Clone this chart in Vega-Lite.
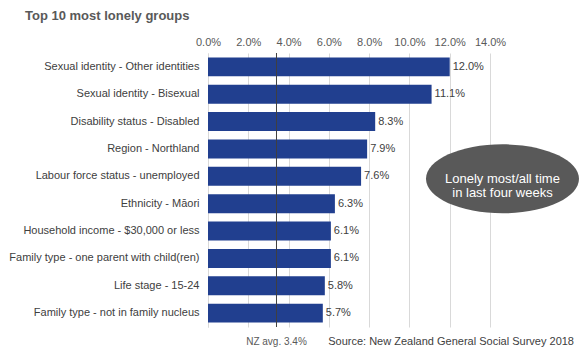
{
  "$schema": "https://vega.github.io/schema/vega-lite/v6.json",
  "autosize": {"type": "none"},
  "padding": {"left": 208, "top": 53, "right": 98, "bottom": 30},
  "width": 282,
  "height": 274,
  "background": "white",
  "config": {
    "font": "Liberation Sans",
    "view": {"stroke": null}
  },
  "title": {
    "text": "Top 10 most lonely groups",
    "anchor": "start",
    "frame": "group",
    "dx": -183,
    "offset": 13,
    "fontSize": 13,
    "fontWeight": "bold",
    "color": "#595959",
    "font": "Liberation Sans"
  },
  "datasets": {
    "bars": [
      {"group": "Sexual identity - Other identities", "value": 12.0, "label": "12.0%"},
      {"group": "Sexual identity - Bisexual", "value": 11.1, "label": "11.1%"},
      {"group": "Disability status - Disabled", "value": 8.3, "label": "8.3%"},
      {"group": "Region - Northland", "value": 7.9, "label": "7.9%"},
      {"group": "Labour force status - unemployed", "value": 7.6, "label": "7.6%"},
      {"group": "Ethnicity - Māori", "value": 6.3, "label": "6.3%"},
      {"group": "Household income - $30,000 or less", "value": 6.1, "label": "6.1%"},
      {"group": "Family type - one parent with child(ren)", "value": 6.1, "label": "6.1%"},
      {"group": "Life stage - 15-24", "value": 5.8, "label": "5.8%"},
      {"group": "Family type - not in family nucleus", "value": 5.7, "label": "5.7%"}
    ]
  },
  "layer": [
    {
      "data": {"name": "bars"},
      "mark": {"type": "bar", "color": "#213f8f"},
      "encoding": {
        "y": {
          "field": "group",
          "type": "nominal",
          "sort": null,
          "scale": {"paddingInner": 0.31, "paddingOuter": 0.16},
          "axis": {
            "title": null,
            "ticks": false,
            "labelPadding": 9,
            "labelFontSize": 11,
            "labelColor": "#404040",
            "labelFont": "Liberation Sans",
            "labelLimit": 250,
            "domainColor": "#d9d9d9",
            "grid": false
          }
        },
        "x": {
          "field": "value",
          "type": "quantitative",
          "scale": {"domain": [0, 14], "nice": false},
          "axis": {
            "orient": "top",
            "title": null,
            "values": [0, 2, 4, 6, 8, 10, 12, 14],
            "labelExpr": "format(datum.value, '.1f') + '%'",
            "labelOverlap": false,
            "labelBound": false,
            "labelFlush": false,
            "ticks": false,
            "domain": false,
            "labelPadding": 6,
            "labelFontSize": 11,
            "labelColor": "#595959",
            "labelFont": "Liberation Sans",
            "gridColor": "#d9d9d9",
            "gridWidth": 1
          }
        }
      }
    },
    {
      "data": {"name": "bars"},
      "mark": {"type": "text", "align": "left", "baseline": "middle", "dx": 3, "fontSize": 11, "color": "#404040"},
      "encoding": {
        "x": {"field": "value", "type": "quantitative"},
        "y": {"field": "group", "type": "nominal", "sort": null},
        "text": {"field": "label"}
      }
    },
    {
      "data": {"values": [{"avg": 3.4}]},
      "mark": {"type": "rule", "color": "#404040", "strokeWidth": 1},
      "encoding": {
        "x": {"field": "avg", "type": "quantitative"}
      }
    },
    {
      "data": {"values": [{"avg": 3.4, "label": "NZ avg. 3.4%", "group": "Family type - not in family nucleus"}]},
      "mark": {"type": "text", "align": "center", "baseline": "middle", "dy": 29, "fontSize": 10, "color": "#595959"},
      "encoding": {
        "x": {"field": "avg", "type": "quantitative"},
        "y": {"field": "group", "type": "nominal", "sort": null},
        "text": {"field": "label"}
      }
    },
    {
      "data": {"values": [{"pos": 18.17, "label": "Source: New Zealand General Social Survey 2018", "group": "Family type - not in family nucleus"}]},
      "mark": {"type": "text", "align": "right", "baseline": "middle", "dy": 29, "fontSize": 11, "color": "#404040", "clip": false},
      "encoding": {
        "x": {"field": "pos", "type": "quantitative"},
        "y": {"field": "group", "type": "nominal", "sort": null},
        "text": {"field": "label"}
      }
    },
    {
      "data": {"values": [{"pos": 14.62, "group": "Labour force status - unemployed"}]},
      "mark": {
        "type": "point",
        "shape": "M -1 0 A 1 0.451 0 1 0 1 0 A 1 0.451 0 1 0 -1 0 Z",
        "filled": true,
        "opacity": 1,
        "color": "#595959",
        "size": 23409,
        "clip": false
      },
      "encoding": {
        "x": {"field": "pos", "type": "quantitative"},
        "y": {"field": "group", "type": "nominal", "sort": null, "bandPosition": 0.635}
      }
    },
    {
      "data": {"values": [{"pos": 14.62, "group": "Labour force status - unemployed", "label": ["Lonely most/all time", "in last four weeks"]}]},
      "mark": {"type": "text", "align": "center", "baseline": "middle", "fontSize": 13, "lineHeight": 14, "color": "white"},
      "encoding": {
        "x": {"field": "pos", "type": "quantitative"},
        "y": {"field": "group", "type": "nominal", "sort": null, "bandPosition": 0.635},
        "text": {"field": "label"}
      }
    }
  ]
}
